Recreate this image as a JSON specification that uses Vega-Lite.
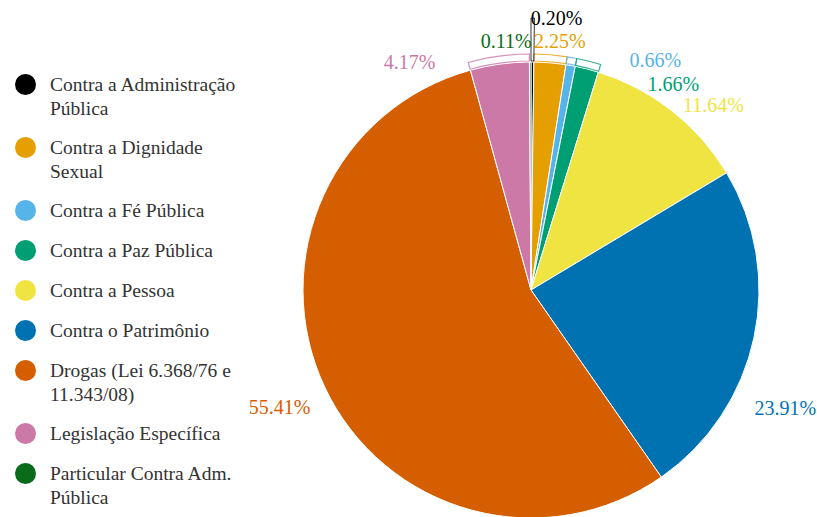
{
  "$schema": "https://vega.github.io/schema/vega-lite/v6.json",
  "width": 456,
  "height": 456,
  "padding": {"left": 15, "top": 9, "right": 0, "bottom": 0},
  "background": "white",
  "config": {
    "view": {"stroke": null},
    "font": "Liberation Serif",
    "legend": {"labelFont": "Liberation Serif"},
    "style": {"guide-label": {"lineHeight": 24, "font": "Liberation Serif"}}
  },
  "data": {
    "values": [
      {"category": "Contra a Administração Pública", "value": 0.20, "order": 1, "label": "0.20%"},
      {"category": "Contra a Dignidade Sexual", "value": 2.25, "order": 2, "label": "2.25%"},
      {"category": "Contra a Fé Pública", "value": 0.66, "order": 3, "label": "0.66%"},
      {"category": "Contra a Paz Pública", "value": 1.66, "order": 4, "label": "1.66%"},
      {"category": "Contra a Pessoa", "value": 11.64, "order": 5, "label": "11.64%"},
      {"category": "Contra o Patrimônio", "value": 23.91, "order": 6, "label": "23.91%"},
      {"category": "Drogas (Lei 6.368/76 e 11.343/08)", "value": 55.41, "order": 7, "label": "55.41%"},
      {"category": "Legislação Específica", "value": 4.17, "order": 8, "label": "4.17%"},
      {"category": "Particular Contra Adm. Pública", "value": 0.11, "order": 9, "label": "0.11%"}
    ]
  },
  "encoding": {
    "theta": {"field": "value", "type": "quantitative", "stack": true},
    "order": {"field": "order", "type": "quantitative"},
    "color": {
      "field": "category",
      "type": "nominal",
      "sort": null,
      "scale": {
        "domain": ["Contra a Administração Pública", "Contra a Dignidade Sexual", "Contra a Fé Pública", "Contra a Paz Pública", "Contra a Pessoa", "Contra o Patrimônio", "Drogas (Lei 6.368/76 e 11.343/08)", "Legislação Específica", "Particular Contra Adm. Pública"],
        "range": ["#000000", "#E69F00", "#56B4E9", "#009E73", "#F0E442", "#0072B2", "#D55E00", "#CC79A7", "#0a6b1a"]
      },
      "legend": {
        "title": null,
        "orient": "none",
        "legendX": -288,
        "legendY": 12,
        "padding": 0,
        "symbolType": "circle",
        "symbolSize": 441,
        "symbolStrokeWidth": 0,
        "symbolOpacity": 1,
        "labelFont": "Liberation Serif",
        "labelFontSize": 19.5,
        "labelColor": "#333333",
        "labelLimit": 300,
        "labelOffset": 14,
        "rowPadding": 19,
        "labelExpr": "datum.label === 'Contra a Administração Pública' ? ['Contra a Administração', 'Pública'] : datum.label === 'Contra a Dignidade Sexual' ? ['Contra a Dignidade', 'Sexual'] : datum.label === 'Drogas (Lei 6.368/76 e 11.343/08)' ? ['Drogas (Lei 6.368/76 e', '11.343/08)'] : datum.label === 'Particular Contra Adm. Pública' ? ['Particular Contra Adm.', 'Pública'] : datum.label"
      }
    }
  },
  "layer": [
    {"mark": {"type": "arc", "outerRadius": 228, "stroke": "white", "strokeWidth": 1}},
    {"mark": {"type": "arc", "filled": false, "innerRadius": 229, "outerRadius": 236, "strokeWidth": 1.2},
     "encoding": {"strokeOpacity": {"condition": {"test": "indexof([2, 3, 4, 8], datum.order) >= 0", "value": 0.8}, "value": 0}}},
    {"mark": {"type": "arc", "filled": false, "innerRadius": 229, "outerRadius": 272, "strokeWidth": 1},
     "encoding": {"strokeOpacity": {"condition": {"test": "datum.order === 1", "value": 0.8}, "value": 0}}},
    {"mark": {"type": "text", "radius": 250, "dx": 24, "dy": -21, "fontSize": 20},
     "encoding": {"text": {"condition": {"test": "datum.order === 1", "field": "label"}, "value": ""}}},
    {"mark": {"type": "text", "radius": 250, "dx": 8, "dy": 1, "fontSize": 20},
     "encoding": {"text": {"condition": {"test": "datum.order === 2", "field": "label"}, "value": ""}}},
    {"mark": {"type": "text", "radius": 250, "dx": 81, "dy": 17, "fontSize": 20},
     "encoding": {"text": {"condition": {"test": "datum.order === 3", "field": "label"}, "value": ""}}},
    {"mark": {"type": "text", "radius": 250, "dx": 81, "dy": 37, "fontSize": 20},
     "encoding": {"text": {"condition": {"test": "datum.order === 4", "field": "label"}, "value": ""}}},
    {"mark": {"type": "text", "radius": 250, "dx": 28, "dy": 13, "fontSize": 20},
     "encoding": {"text": {"condition": {"test": "datum.order === 5", "field": "label"}, "value": ""}}},
    {"mark": {"type": "text", "radius": 250, "dx": 10, "dy": 67, "fontSize": 20},
     "encoding": {"text": {"condition": {"test": "datum.order === 6", "field": "label"}, "value": ""}}},
    {"mark": {"type": "text", "radius": 250, "dx": -25, "dy": 12, "fontSize": 20},
     "encoding": {"text": {"condition": {"test": "datum.order === 7", "field": "label"}, "value": ""}}},
    {"mark": {"type": "text", "radius": 250, "dx": -87, "dy": 21, "fontSize": 20},
     "encoding": {"text": {"condition": {"test": "datum.order === 8", "field": "label"}, "value": ""}}},
    {"mark": {"type": "text", "radius": 250, "dx": -24, "dy": 2, "fontSize": 20},
     "encoding": {"text": {"condition": {"test": "datum.order === 9", "field": "label"}, "value": ""}}}
  ]
}
